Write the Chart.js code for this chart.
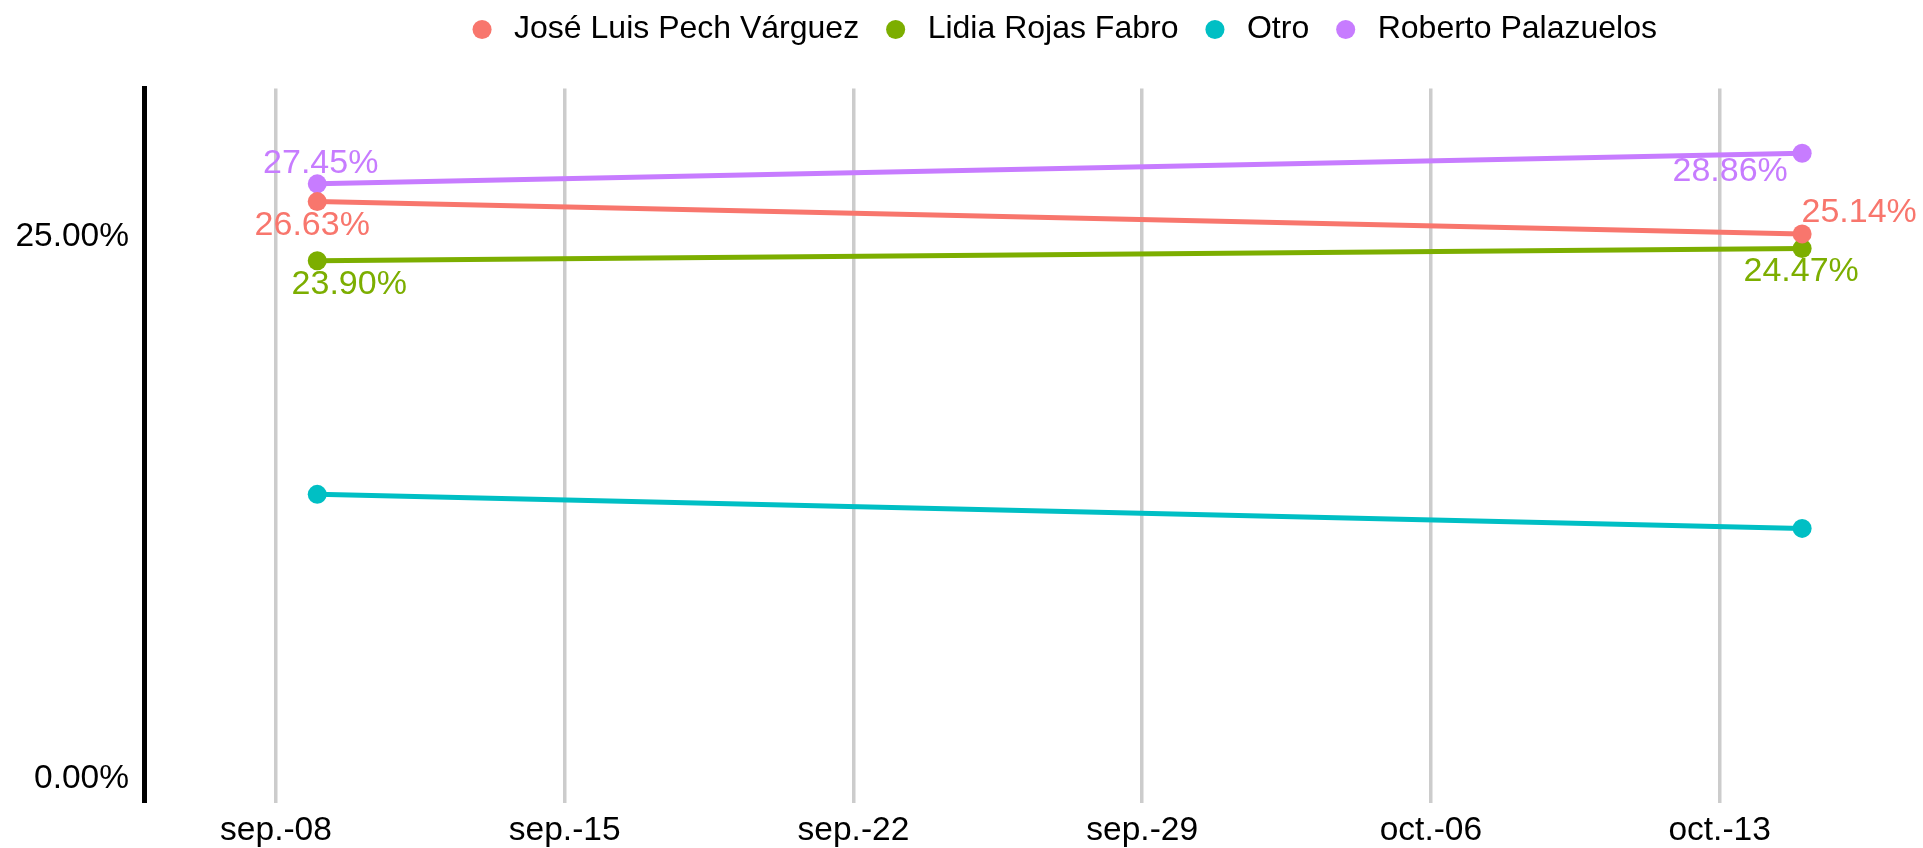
<!DOCTYPE html>
<html><head><meta charset="utf-8">
<script src="https://cdn.jsdelivr.net/npm/chart.js@4.4.1/dist/chart.umd.min.js"></script>
<style>html,body{margin:0;padding:0;background:#fff;overflow:hidden}#wrap{width:1923px;height:848px;position:relative}</style>
</head><body><div id="wrap"><canvas id="c"></canvas></div>
<script>
// ---- data ----
const seriesNames = ['José Luis Pech Várguez', 'Lidia Rojas Fabro', 'Otro', 'Roberto Palazuelos'];
const pointDates = ['2024-09-09', '2024-10-15'];
const jose = [26.63, 25.14];
const lidia = [23.90, 24.47];
const otro = [13.12, 11.55];
const roberto = [27.45, 28.86];
const tickDates = ['2024-09-08', '2024-09-15', '2024-09-22', '2024-09-29', '2024-10-06', '2024-10-13'];
const tickLabels = ['sep.-08', 'sep.-15', 'sep.-22', 'sep.-29', 'oct.-06', 'oct.-13'];
const yTicks = [0, 25];
const labelled = [true, true, false, true];

// ---- helpers ----
const base = Date.UTC(2024, 8, 8);
const dayOf = s => { const [y, m, d] = s.split('-').map(Number); return (Date.UTC(y, m - 1, d) - base) / 86400000; };
const xs = pointDates.map(dayOf);
const tickDays = tickDates.map(dayOf);
const colors = ['#F8766D', '#7CAE00', '#00BFC4', '#C77CFF'];
const values = [jose, lidia, otro, roberto];
const FONT = '"Liberation Sans", Arial, sans-serif';

// label placement (offset of text centre from its point, px), like ggrepel placement
const labelOffsets = [
  [[-5, 24], [57, -21]],
  [[32, 24], [-1, 23]],
  null,
  [[3.5, -20], [-72, 18]]
];

const datasets = seriesNames.map((name, i) => ({
  label: name,
  data: values[i].map((v, j) => ({x: xs[j], y: v})),
  borderColor: colors[i],
  backgroundColor: colors[i],
  pointBackgroundColor: colors[i],
  pointBorderWidth: 0,
  pointRadius: 9.5,
  pointHoverRadius: 9.5,
  borderWidth: 5,
  clip: false,
  tension: 0
}));

const valueLabels = {
  id: 'valueLabels',
  afterDatasetsDraw(chart) {
    const ctx = chart.ctx;
    ctx.save();
    ctx.font = '34px ' + FONT;
    ctx.textAlign = 'center';
    ctx.textBaseline = 'middle';
    chart.data.datasets.forEach((ds, i) => {
      if (!labelled[i]) return;
      const meta = chart.getDatasetMeta(i);
      meta.data.forEach((pt, j) => {
        const off = labelOffsets[i][j];
        ctx.fillStyle = colors[i];
        ctx.fillText(values[i][j].toFixed(2) + '%', pt.x + off[0], pt.y + off[1]);
      });
    });
    ctx.restore();
  }
};

const legendShift = {
  id: 'legendShift',
  afterLayout(chart) {
    const lg = chart.legend;
    if (!lg) return;
    lg.left += 100; lg.right += 100;
    lg.top -= 7; lg.bottom -= 7;
  }
};

new Chart(document.getElementById('c'), {
  type: 'line',
  data: {datasets},
  options: {
    responsive: true,
    maintainAspectRatio: false,
    animation: false,
    layout: {padding: {left: 0, right: 0, top: 0, bottom: -12}},
    plugins: {
      tooltip: {enabled: false},
      legend: {
        position: 'top',
        labels: {
          usePointStyle: true,
          pointStyle: 'circle',
          boxWidth: 32,
          boxHeight: 13.5,
          padding: 20.5,
          color: '#000',
          font: {family: FONT, size: 32}
        }
      },
      subtitle: {display: true, text: '', weight: 500, font: {size: 10, lineHeight: 1}, padding: {top: 0, bottom: 16}},
      title: {display: false}
    },
    scales: {
      x: {
        type: 'linear',
        min: -3.2,
        max: 39.7,
        afterBuildTicks: s => { s.ticks = tickDays.map(v => ({value: v})); },
        ticks: {
          autoSkip: false,
          maxRotation: 0,
          padding: 12,
          color: '#000',
          font: {family: FONT, size: 33.5, lineHeight: 1},
          callback: (v, idx) => tickLabels[idx]
        },
        grid: {display: true, color: '#cccccc', lineWidth: 3.5, drawTicks: false},
        border: {display: false}
      },
      y: {
        min: -1.1,
        max: 31.85,
        afterBuildTicks: s => { s.ticks = yTicks.map(v => ({value: v})); },
        afterFit: s => { s.width = 144; },
        ticks: {
          padding: 15,
          color: '#000',
          font: {family: FONT, size: 33.5},
          callback: v => Number(v).toFixed(2) + '%'
        },
        grid: {display: true, color: 'rgba(0,0,0,0)', drawTicks: false},
        border: {display: true, color: '#000', width: 5}
      }
    }
  },
  plugins: [valueLabels, legendShift]
});
</script></body></html>
